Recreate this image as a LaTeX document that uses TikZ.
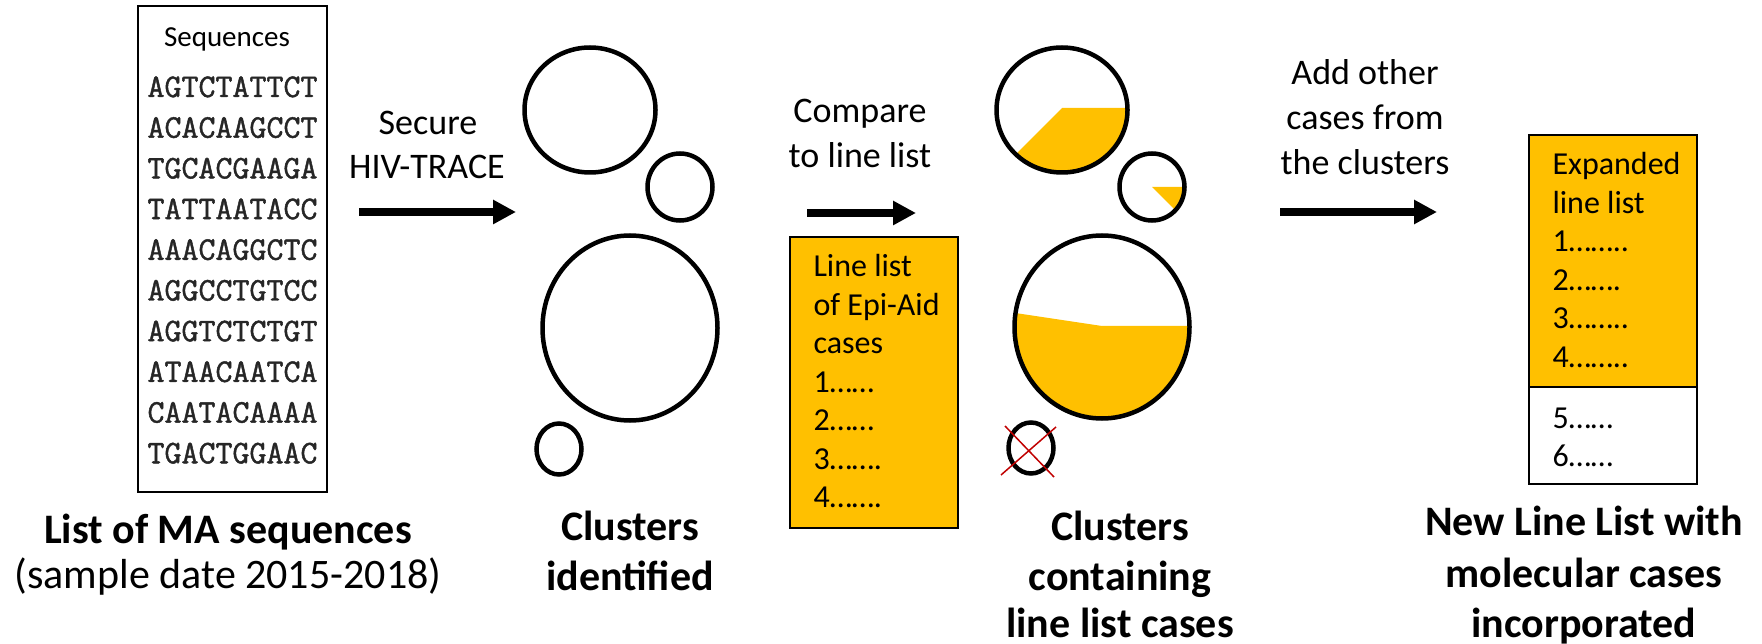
\documentclass[tikz,border=0pt]{standalone}
\usepackage{fontspec}
\setmainfont{Carlito}
\newfontfamily\seqfont{Latin Modern Mono}[FakeBold=1.4]
\usepackage{tikz}
\usetikzlibrary{arrows.meta}
\definecolor{gold}{HTML}{FFC000}
\definecolor{crossred}{HTML}{C00000}

\begin{document}
\begin{tikzpicture}[x=1pt, y=-1pt,
  ring/.style={line width=4.5pt},
  flow/.style={line width=8pt, -{Triangle[length=23pt,width=23pt]}},
  listbox/.style={draw, line width=1.5pt, minimum width=168pt, inner sep=0pt},
  armtext/.style={font=\fontsize{36}{45}\selectfont, anchor=base},
  boxtext/.style={font=\fontsize{32}{38}\selectfont, anchor=base west},
  steptext/.style={font=\fontsize{42}{50}\selectfont\bfseries, anchor=base}]
  \useasboundingbox (0,0) rectangle (1762,644);

  % sequences
  \node[draw, line width=1.5pt, minimum width=189pt, minimum height=486pt] (seqbox) at (232.5,249) {};
  \node[font=\fontsize{29}{35}\selectfont, anchor=base] (seqhead) at (227,47) {Sequences};
  \foreach \s [count=\i from 0] in {AGTCTATTCT,ACACAAGCCT,TGCACGAAGA,TATTAATACC,AAACAGGCTC,
      AGGCCTGTCC,AGGTCTCTGT,ATAACAATCA,CAATACAAAA,TGACTGGAAC}
    \node[font=\seqfont\fontsize{33}{40}\selectfont, text=black!85, anchor=base] (seq\i) at (232.5,97+40.7*\i) {\s};
  \node[steptext] (seqlbl) at (228,543) {List of MA sequences};
  \node[font=\fontsize{42}{50}\selectfont, anchor=base] (seqdate) at (228,588) {(sample date 2015-2018)};

  % HIV-TRACE
  \coordinate (a1s) at (359,212);
  \coordinate (a1e) at (516,212);
  \draw[flow] (a1s) -- (a1e);
  \node[armtext] (a1top) at (428,135) {Secure};
  \node[armtext] (a1bot) at (427,179) {HIV-TRACE};

  % clusters
  \draw[ring] (590,110) ellipse (65.5 and 62.5);
  \draw[ring] (680,187) ellipse (32.5 and 33.5);
  \draw[ring] (630,328) ellipse (87.5 and 92.5);
  \draw[ring] (559,449) ellipse (22.5 and 25.5);
  \node[steptext] (clulbl) at (630,540) {Clusters};
  \node[steptext] (clulbl2) at (630,590) {identified};

  % compare
  \coordinate (a2s) at (807,213);
  \coordinate (a2e) at (916,213);
  \draw[flow] (a2s) -- (a2e);
  \node[armtext] (a2top) at (860,123) {Compare};
  \node[armtext] (a2bot) at (860,168) {to line list};
  \node[listbox, fill=gold, minimum height=291pt] (epilist) at (874,382.5) {};
  \foreach \t [count=\i from 0] in {Line list, of Epi-Aid, cases, 1……, 2……, 3……., 4…….}
    \node[boxtext] (epi\i) at (810,277+38.4*\i) {\t};

  % clusters with line list cases
  \begin{scope}[xshift=472pt]
    \begin{scope}
      \clip (590,110) ellipse (65.5 and 62.5);
      \fill[gold] (590,108) -- (670,108) -- (670,190) -- (508,190) -- cycle;
    \end{scope}
    \begin{scope}
      \clip (680,187) ellipse (32.5 and 33.5);
      \fill[gold] (680,187) -- (725,187) -- (725,232) -- cycle;
    \end{scope}
    \begin{scope}
      \clip (630,327) ellipse (87.5 and 91.5);
      \fill[gold] (530,311) -- (630,326) -- (730,326) -- (730,430) -- (530,430) -- cycle;
    \end{scope}
    \draw[ring] (590,110) ellipse (65.5 and 62.5);
    \draw[ring] (680,187) ellipse (32.5 and 33.5);
    \draw[ring] (630,327) ellipse (87.5 and 91.5);
    \draw[ring] (559,448) ellipse (22.5 and 25.5);
    \draw[crossred, line width=1.5pt] (533,426) -- (582,477) (529,475) -- (584,427);
  \end{scope}
  \node[steptext] (caselbl) at (1120,540) {Clusters};
  \node[steptext] (caselbl2) at (1120,590) {containing};
  \node[steptext] (caselbl3) at (1120,637) {line list cases};

  % add other cases
  \coordinate (a3s) at (1280,212);
  \coordinate (a3e) at (1437,212);
  \draw[flow] (a3s) -- (a3e);
  \node[armtext] (a3top) at (1365,85) {Add other};
  \node[armtext] (a3mid) at (1365,130) {cases from};
  \node[armtext] (a3bot) at (1365,175) {the clusters};

  % expanded line list
  \node[listbox, fill=gold, minimum height=252pt] (exptop) at (1613,261) {};
  \node[listbox, fill=white, minimum height=97pt] (expbot) at (1613,435.5) {};
  \foreach \t [count=\i from 0] in {Expanded, line list, 1…….., 2……., 3…….., 4……..}
    \node[boxtext] (exp\i) at (1549,175+38.4*\i) {\t};
  \node[boxtext] (exp6) at (1549,428) {5……};
  \node[boxtext] (exp7) at (1549,466) {6……};
  \node[steptext] (newlbl) at (1584,535) {New Line List with};
  \node[steptext] (newlbl2) at (1584,587) {molecular cases};
  \node[steptext] (newlbl3) at (1584,637) {incorporated};
\end{tikzpicture}
\end{document}
